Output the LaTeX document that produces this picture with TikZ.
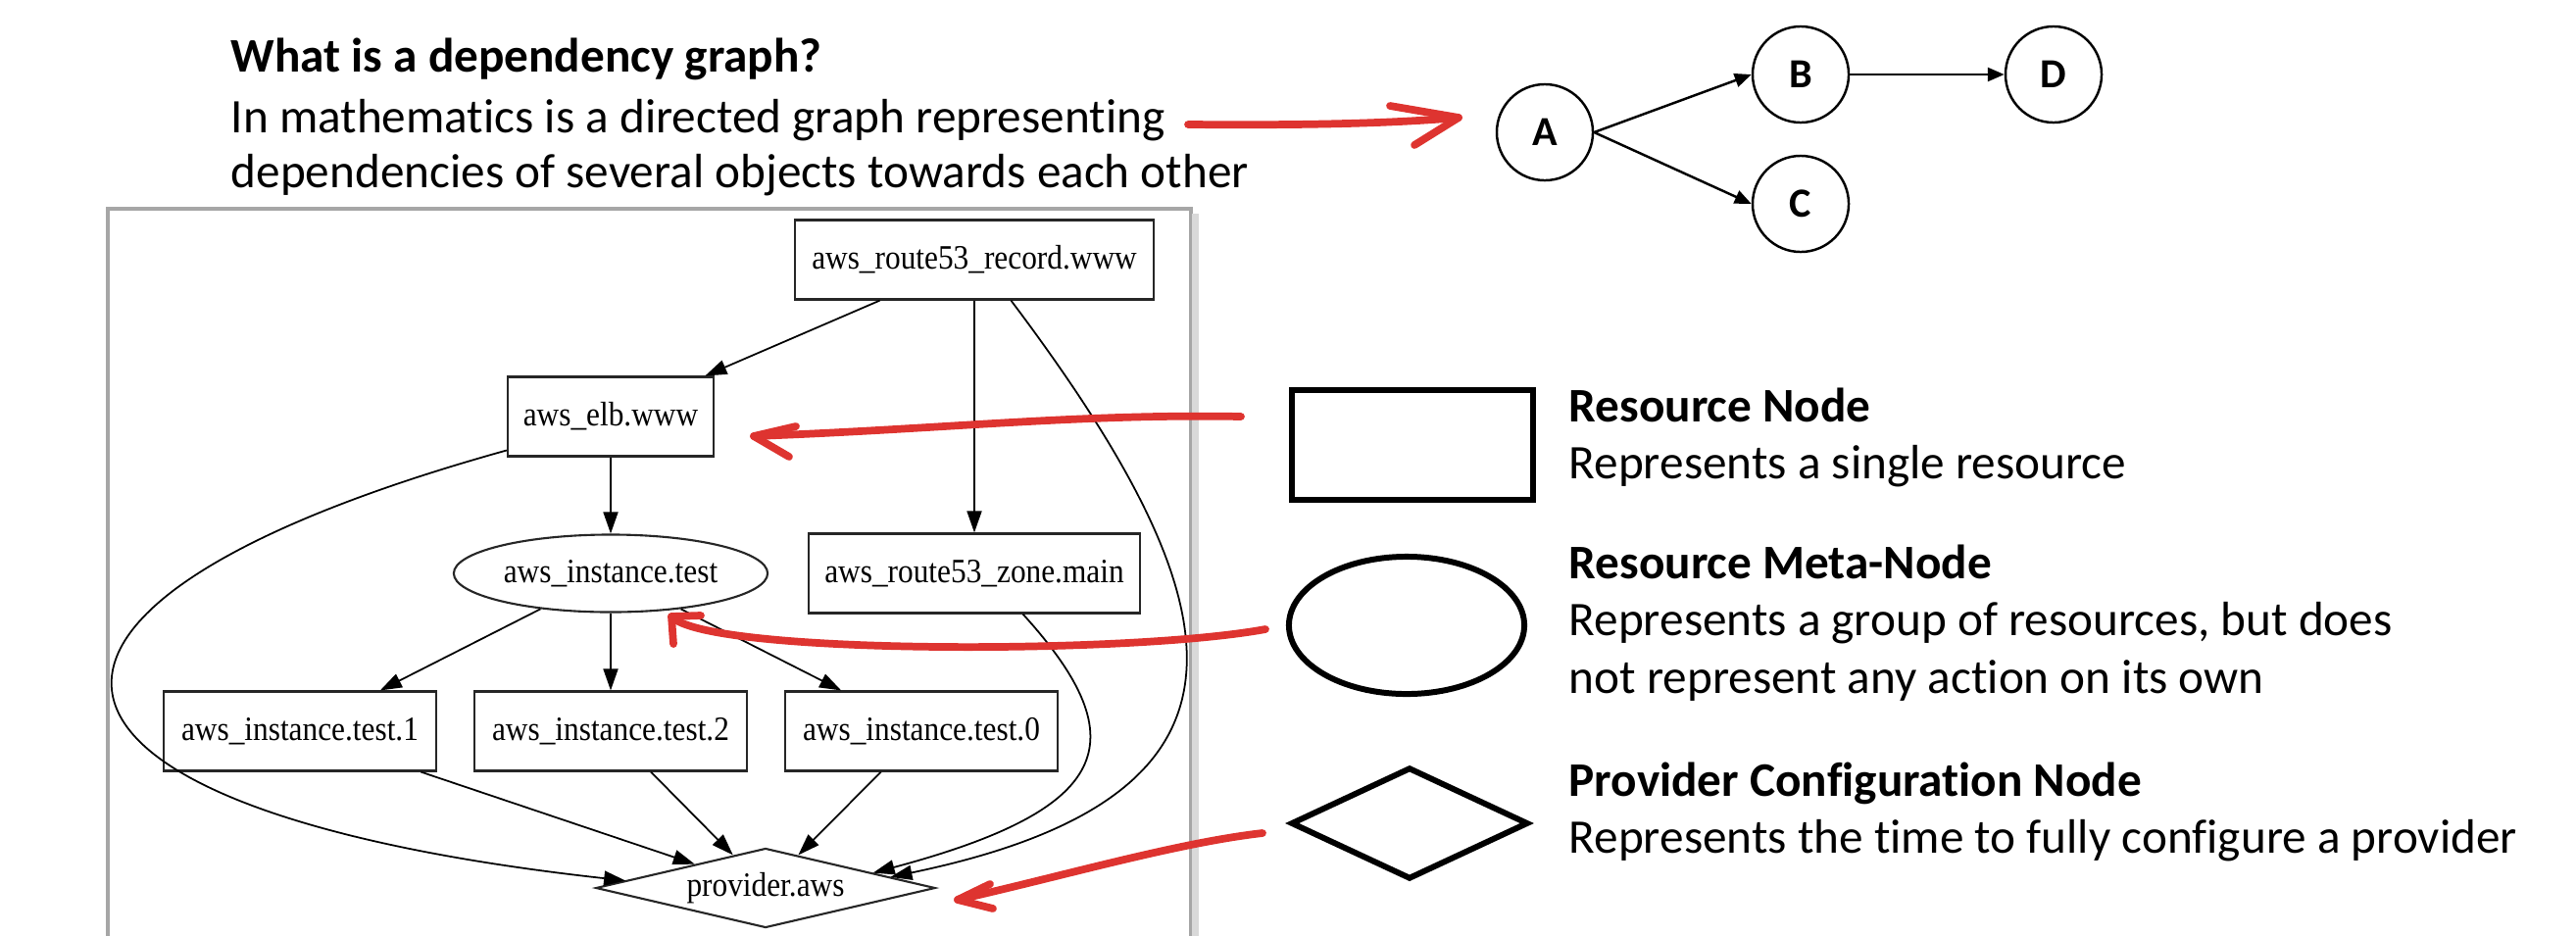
\documentclass[tikz,border=0pt]{standalone}
\usepackage{fontspec}
\setmainfont{Carlito}[Ligatures=NoCommon]
\newfontfamily\gvfont{Liberation Serif}[FakeStretch=0.9]
\usetikzlibrary{shapes.geometric,arrows.meta}
\definecolor{pen}{RGB}{222,52,48}
\begin{document}
\begin{tikzpicture}[x=0.01cm,y=-0.01cm]
\tikzstyle{every node}+=[inner sep=0pt]
\tikzstyle{slide}=[font=\fontsize{14}{17}\selectfont, anchor=base west]
\tikzstyle{gv}=[draw=black!85, line width=0.6pt, font=\gvfont\fontsize{9.9}{11}\selectfont]
\tikzstyle{gvbox}=[gv, rectangle, minimum height=0.81cm]
\tikzstyle{gvedge}=[line width=0.5pt, -{Triangle[length=0.22cm,width=0.15cm]}]
\tikzstyle{letter}=[circle, draw, line width=0.7pt, minimum size=0.98cm, font=\fontsize{12}{14}\selectfont\bfseries]
\tikzstyle{abc}=[line width=0.7pt, -{Triangle[length=0.17cm,width=0.14cm]}]
\tikzstyle{key}=[draw, line width=1.7pt]
\tikzstyle{marker}=[draw=pen, line width=2.2pt, line cap=round, line join=round]
\useasboundingbox (0,0) rectangle (2628,954);
\node[slide] (title) at (235,73) {\bfseries What is a dependency graph?};
\node[slide] (intro1) at (235,135) {In mathematics is a directed graph representing};
\node[slide] (intro2) at (235,191) {dependencies of several objects towards each other};
\node[letter] (a) at (1576,135) {A};
\node[letter] (b) at (1837,76) {B};
\node[letter] (c) at (1837,208) {C};
\node[letter] (d) at (2095,76) {D};
\draw[abc] (a.east) -- (b.west);
\draw[abc] (a.east) -- (c.west);
\draw[abc] (b) -- (d);
\draw[gray!70, line width=1pt] (110,960) -- (110,213) -- (1215,213) -- (1215,960);
\draw[black!15, line width=2pt] (1219,218) -- (1219,960);
\node[gvbox, minimum width=3.66cm] (rec) at (994,265) {aws\_route53\_record.www};
\node[gvbox, minimum width=2.10cm] (elb) at (623,425) {aws\_elb.www};
\node[gv, ellipse, minimum width=3.20cm, minimum height=0.79cm] (inst) at (623,585) {aws\_instance.test};
\node[gvbox, minimum width=3.38cm] (zone) at (994,585) {aws\_route53\_zone.main};
\node[gvbox, minimum width=2.78cm] (t1) at (306,746) {aws\_instance.test.1};
\node[gvbox, minimum width=2.77cm] (t2) at (623,746) {aws\_instance.test.2};
\node[gvbox, minimum width=2.77cm] (t0) at (940,746) {aws\_instance.test.0};
\node[gv, diamond, aspect=4.3, minimum width=3.46cm, minimum height=0.81cm] (prov) at (781,906) {provider.aws};
\draw[gvedge] (rec) -- (elb);
\draw[gvedge] (rec) -- (zone);
\draw[gvedge] (rec.-48) .. controls (1271,625) and (1302,813) .. (prov.5);
\draw[gvedge] (elb) -- (inst);
\draw[gvedge] (elb.198) .. controls (-60,620) and (-10,827) .. (prov.177);
\draw[gvedge] (zone.-40) .. controls (1163,758) and (1132,826) .. (prov.8);
\draw[gvedge] (inst) -- (t1);
\draw[gvedge] (inst) -- (t2);
\draw[gvedge] (inst) -- (t0);
\draw[gvedge] (t1) -- (prov);
\draw[gvedge] (t2) -- (prov);
\draw[gvedge] (t0) -- (prov);
\node[key, rectangle, minimum width=2.46cm, minimum height=1.12cm] (keyrect) at (1441,454) {};
\node[key, ellipse, minimum width=2.40cm, minimum height=1.40cm] (keyell) at (1435,638) {};
\node[key, diamond, minimum width=2.42cm, minimum height=1.14cm] (keydia) at (1438,840) {};
\node[slide] (rntitle) at (1600,430) {\bfseries Resource Node};
\node[slide] (rntext) at (1600,488) {Represents a single resource};
\node[slide] (mntitle) at (1600,590) {\bfseries Resource Meta-Node};
\node[slide] (mntext1) at (1600,648) {Represents a group of resources, but does};
\node[slide] (mntext2) at (1600,707) {not represent any action on its own};
\node[slide] (pntitle) at (1600,812) {\bfseries Provider Configuration Node};
\node[slide] (pntext) at (1600,870) {Represents the time to fully configure a provider};
\coordinate (m1s) at (1212,127);
\coordinate (m1e) at (1488,120);
\coordinate (m2s) at (1266,425);
\coordinate (m2e) at (769,445);
\coordinate (m3s) at (1291,642);
\coordinate (m3e) at (685,629);
\coordinate (m4s) at (1288,850);
\coordinate (m4e) at (977,918);
\draw[marker] (m1s) .. controls (1330,128) and (1420,126) .. (m1e);
\draw[marker] (m1e) -- ++(-70,-12) (m1e) -- ++(-45,28);
\draw[marker] (m2s) .. controls (1100,422) and (960,438) .. (m2e);
\draw[marker] (m2e) -- ++(43,-10) (m2e) -- ++(36,21);
\draw[marker] (m3s) .. controls (1150,668) and (720,668) .. (m3e);
\draw[marker] (m3e) -- ++(30,-1) (m3e) -- ++(2,28);
\draw[marker] (m4s) .. controls (1200,860) and (1080,895) .. (m4e);
\draw[marker] (m4e) -- ++(33,-16) (m4e) -- ++(36,9);
\end{tikzpicture}
\end{document}
